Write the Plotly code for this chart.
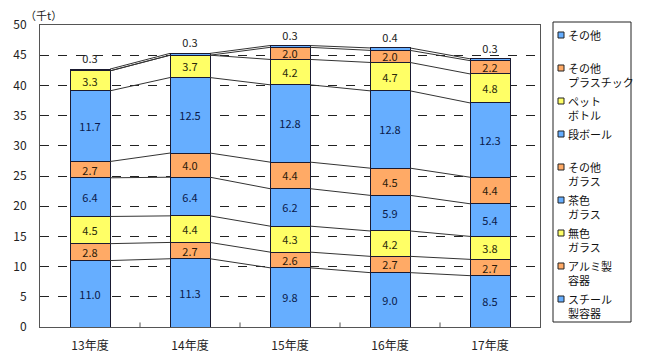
import plotly.graph_objects as go

categories = ["13年度", "14年度", "15年度", "16年度", "17年度"]

series_names = [
    "スチール<br>製容器",
    "アルミ製<br>容器",
    "無色<br>ガラス",
    "茶色<br>ガラス",
    "その他<br>ガラス",
    "段ボール",
    "ペット<br>ボトル",
    "その他<br>プラスチック",
    "その他",
]
steel = [11.0, 11.3, 9.8, 9.0, 8.5]
alu = [2.8, 2.7, 2.6, 2.7, 2.7]
clear_glass = [4.5, 4.4, 4.3, 4.2, 3.8]
brown_glass = [6.4, 6.4, 6.2, 5.9, 5.4]
other_glass = [2.7, 4.0, 4.4, 4.5, 4.4]
cardboard = [11.7, 12.5, 12.8, 12.8, 12.3]
pet = [3.3, 3.7, 4.2, 4.7, 4.8]
other_plastic = [0.0, 0.0, 2.0, 2.0, 2.2]
other = [0.3, 0.3, 0.3, 0.4, 0.3]

series_values = [steel, alu, clear_glass, brown_glass, other_glass,
                 cardboard, pet, other_plastic, other]

BLUE = "#66AEFF"
ORANGE = "#FFAA66"
YELLOW = "#FFFF66"
series_colors = [BLUE, ORANGE, YELLOW, BLUE, ORANGE, BLUE, YELLOW, ORANGE, BLUE]
text_colors = {BLUE: "#0a1a4a", ORANGE: "#2a1a0a", YELLOW: "#2a2a0a"}

FONT = "Noto Sans CJK JP, sans-serif"
BAR_W = 0.4

# page has an 8px body margin; size the figure to fit the 650x357 window
OFF = 8
W, H = 650 - OFF, 357 - OFF
# plot area in page pixels: x 40..540, y 25..327
ML = 40 - OFF
MT = 25 - OFF
MR = W - (540 - OFF)
MB = H - (327 - OFF)
PW = W - ML - MR
PH = H - MT - MB


def px_x(p):
    """page x pixel -> paper coordinate"""
    return (p - OFF - ML) / PW


def px_y(p):
    """page y pixel -> paper coordinate"""
    return (H - MB - (p - OFF)) / PH


fig = go.Figure()

n_series = len(series_values)
for idx, (name, vals, col) in enumerate(zip(series_names, series_values, series_colors)):
    texts = [("" if v == 0 else f"{v:.1f}") for v in vals]
    is_top = idx == n_series - 1
    fig.add_trace(go.Bar(
        x=list(range(len(categories))),
        y=vals,
        name=name,
        marker=dict(color=col, line=dict(color="#1a1a30", width=1)),
        width=BAR_W,
        text=texts,
        textposition="outside" if is_top else "inside",
        insidetextanchor="middle",
        textangle=0,
        insidetextfont=dict(family=FONT, size=11, color=text_colors[col]),
        outsidetextfont=dict(family=FONT, size=11, color="#222"),
        cliponaxis=False,
        hoverinfo="skip",
        showlegend=False,
    ))

# connector lines between bars, from cumulative sums
cum = []
running = [0.0] * len(categories)
for vals in series_values:
    running = [r + v for r, v in zip(running, vals)]
    cum.append(running[:])

lx, ly = [], []
for level in cum:
    for i in range(len(categories) - 1):
        lx += [i + BAR_W / 2, i + 1 - BAR_W / 2, None]
        ly += [level[i], level[i + 1], None]
fig.add_trace(go.Scatter(x=lx, y=ly, mode="lines",
                         line=dict(color="#333333", width=1),
                         showlegend=False, hoverinfo="skip"))

shapes = []
annotations = []

# manual legend (top of stack first)
LEG_X0, LEG_X1, LEG_Y0, LEG_Y1 = 553, 631, 22, 322
shapes.append(dict(type="rect", xref="paper", yref="paper",
                   x0=px_x(LEG_X0), x1=px_x(LEG_X1),
                   y0=px_y(LEG_Y1), y1=px_y(LEG_Y0),
                   line=dict(color="#222", width=1), fillcolor="white", layer="below"))
item_y = 35
for name, col in zip(reversed(series_names), reversed(series_colors)):
    shapes.append(dict(type="rect", xref="paper", yref="paper",
                       x0=px_x(558), x1=px_x(564),
                       y0=px_y(item_y + 3), y1=px_y(item_y - 3),
                       line=dict(color="#222", width=1), fillcolor=col))
    n_lines = name.count("<br>") + 1
    centre = item_y + 7 * (n_lines - 1)
    annotations.append(dict(text=name, xref="paper", yref="paper",
                            x=px_x(567), y=px_y(centre),
                            xanchor="left", yanchor="middle", align="left",
                            showarrow=False, borderpad=0,
                            font=dict(family=FONT, size=11, color="#111")))
    item_y += 33

# unit label
annotations.append(dict(text="（千t）", xref="paper", yref="paper",
                        x=px_x(24), y=px_y(15), xanchor="left", yanchor="middle",
                        showarrow=False, borderpad=0,
                        font=dict(family=FONT, size=11, color="#222")))

# boundary ticks on x axis (inside)
for b in [0.5, 1.5, 2.5, 3.5]:
    shapes.append(dict(type="line", xref="x", yref="paper", x0=b, x1=b, y0=0, y1=0.015,
                       line=dict(color="#555", width=1)))

fig.update_layout(
    width=W, height=H,
    barmode="stack",
    margin=dict(l=ML, r=MR, t=MT, b=MB, autoexpand=False),
    paper_bgcolor="white",
    plot_bgcolor="white",
    font=dict(family=FONT, size=12, color="#222"),
    showlegend=False,
    xaxis=dict(
        range=[-0.5, 4.5],
        tickmode="array",
        tickvals=list(range(len(categories))),
        ticktext=categories,
        showgrid=False,
        showline=True, linecolor="#555", linewidth=1, mirror=True,
        ticks="", tickfont=dict(size=12, color="#222"),
        ticklabelstandoff=8,
        zeroline=False, automargin=False,
    ),
    yaxis=dict(
        range=[0, 50], dtick=5,
        showgrid=True, gridcolor="#222", griddash="dash", gridwidth=1,
        showline=True, linecolor="#555", linewidth=1, mirror=True,
        ticks="", tickfont=dict(size=12, color="#222"),
        ticklabelstandoff=10,
        zeroline=False, automargin=False,
    ),
    shapes=shapes,
    annotations=annotations,
    uniformtext=dict(minsize=11, mode="show"),
)

fig.write_html("out.html")
